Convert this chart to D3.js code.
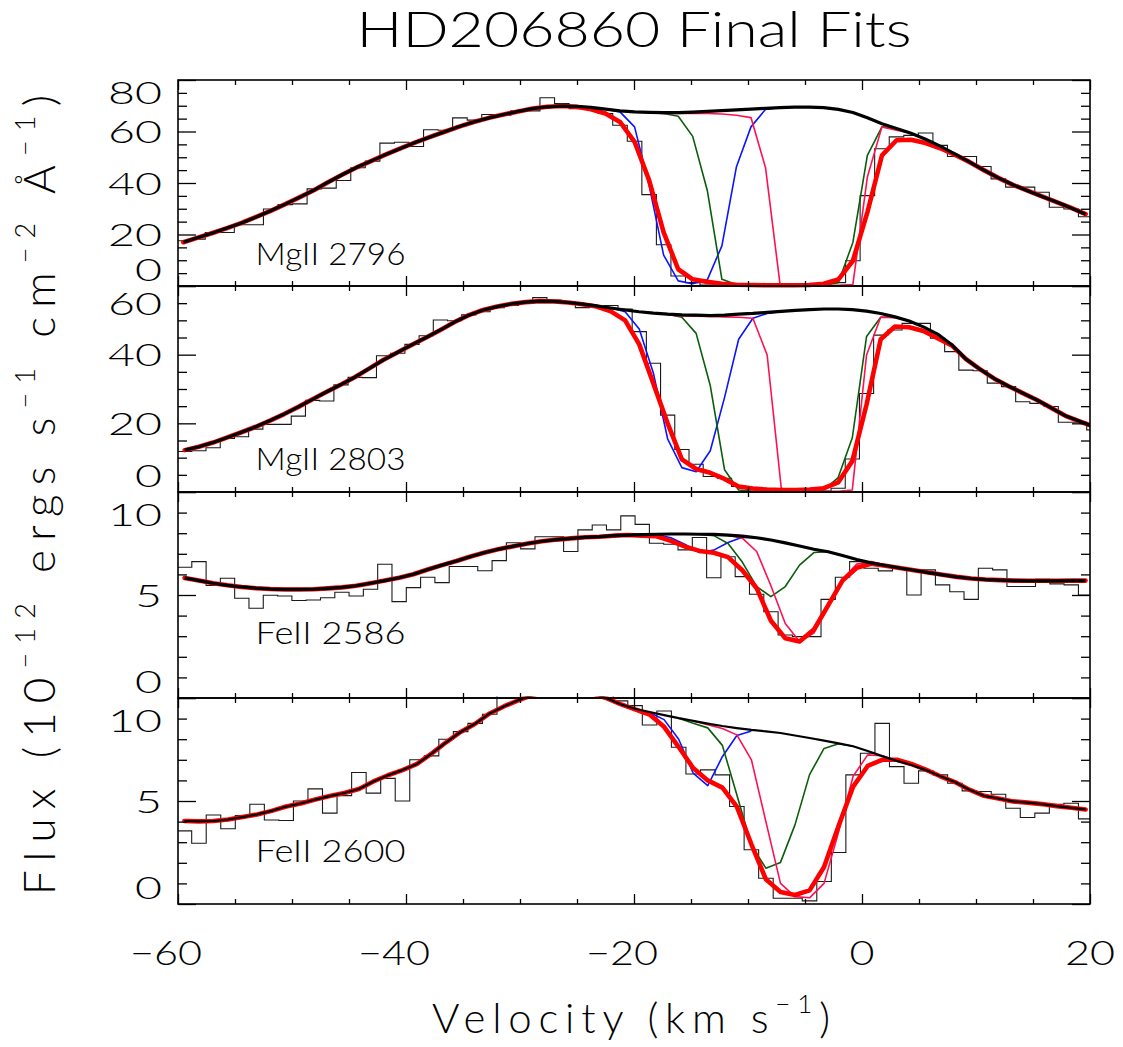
<!DOCTYPE html>
<html><head><meta charset="utf-8">
<script src="https://cdn.jsdelivr.net/npm/d3@7"></script>
<style>
html,body{margin:0;padding:0;background:#fff;}
svg{display:block;}
text{font-family:Lato,Inter,Roboto,"DejaVu Sans",sans-serif;font-weight:300;fill:#000;-webkit-font-smoothing:antialiased;}
</style></head><body>
<svg id="chart" width="1123" height="1047"></svg>
<script>
// ---------------- DATA ----------------
const titleText = "HD206860 Final Fits";
const xTickValues = [-60, -40, -20, 0, 20];
const xTickLabels = ["\u221260", "\u221240", "\u221220", "0", "20"];
const xMinorTicks = [-55, -50, -45, -35, -30, -25, -15, -10, -5, 5, 10, 15];
const panelNames = ["MgII 2796", "MgII 2803", "FeII 2586", "FeII 2600"];

// MgII 2796
const velMg2796 = [-59.53,-58.25,-56.97,-55.70,-54.42,-53.14,-51.87,-50.59,-49.31,-48.04,-46.76,-45.48,-44.21,-42.93,-41.65,-40.38,-39.10,-37.82,-36.55,-35.27,-33.99,-32.72,-31.44,-30.16,-28.89,-27.61,-26.33,-25.06,-23.78,-22.50,-21.23,-19.95,-18.67,-17.40,-16.12,-14.85,-13.57,-12.29,-11.02,-9.74,-8.46,-7.19,-5.91,-4.63,-3.36,-2.08,-0.80,0.47,1.75,3.03,4.30,5.58,6.86,8.13,9.41,10.69,11.96,13.24,14.52,15.79,17.07,18.35,19.62];
const fluxMg2796 = [17.6,18.2,20.8,20.8,23.8,23.8,29.9,31.6,31.9,37.7,38.0,41.0,45.9,48.5,55.5,55.8,54.2,60.7,60.5,65.3,64.4,66.6,66.3,68.0,68.0,73.1,70.9,68.9,68.6,67.0,62.4,56.2,35.5,16.0,3.9,1.3,0.4,0.3,0.3,0.2,0.3,0.2,0.3,0.3,0.4,1.3,9.8,35.1,53.3,57.9,58.5,59.4,54.6,50.3,50.3,46.4,41.6,38.4,38.4,36.4,30.6,29.9,26.9];
const contMg2796 = [17.0,18.8,20.6,22.5,24.5,26.8,29.2,31.8,34.5,37.3,40.5,43.5,46.3,48.8,51.3,53.6,55.9,58.0,60.0,62.0,63.8,65.3,66.6,67.8,68.9,69.6,69.9,69.8,69.4,68.7,68.0,67.6,67.4,67.3,67.3,67.5,67.8,68.1,68.4,68.7,69.0,69.3,69.5,69.5,69.3,68.6,67.4,65.3,63.0,61.2,59.3,57.0,54.3,51.3,48.2,45.0,42.0,39.3,37.0,34.8,32.6,30.3,27.9];
const fitMg2796 = [17.0,18.8,20.6,22.5,24.5,26.8,29.2,31.8,34.5,37.3,40.5,43.5,46.3,48.8,51.3,53.6,55.9,58.0,60.0,62.0,63.8,65.3,66.6,67.8,68.9,69.6,69.9,69.6,68.6,67.0,63.7,56.0,41.0,20.8,6.5,2.6,1.6,0.9,0.5,0.4,0.3,0.3,0.3,0.4,0.9,2.5,9.8,28.6,50.7,56.6,56.8,55.5,53.5,51.0,48.2,45.0,42.0,39.3,37.0,34.8,32.6,30.3,27.9];
const blueVelMg2796 = [-22.50,-21.23,-19.95,-18.67,-17.40,-16.12,-14.85,-13.57,-12.29,-11.02,-9.74,-8.46,-7.19];
const blueMg2796 = [68.7,67.6,61.8,39.0,12.0,2.0,0.9,2.4,15.6,46.2,61.8,68.6,69.3];
const greenVelMg2796 = [-18.67,-17.40,-16.12,-14.85,-13.57,-12.29,-11.02,-9.74,-8.46,-7.19,-5.91,-4.63,-3.36,-2.08,-0.80,0.47,1.75,3.03];
const greenMg2796 = [67.4,67.0,65.9,58.1,37.1,2.6,0.6,0.3,0.3,0.3,0.3,0.3,0.4,1.3,16.9,50.7,61.8,61.2];
const pinkVelMg2796 = [-18.67,-17.40,-16.12,-14.85,-13.57,-12.29,-11.02,-9.74,-8.46,-7.19,-5.91,-4.63,-3.36,-2.08,-0.80,0.47,1.75,3.03,4.30];
const pinkMg2796 = [67.2,67.0,67.0,67.0,67.0,66.8,66.3,65.4,45.9,0.6,0.3,0.3,0.3,0.3,0.6,42.3,61.8,60.5,59.3];

// MgII 2803
const velMg2803 = [-59.41,-58.17,-56.92,-55.67,-54.43,-53.18,-51.93,-50.69,-49.44,-48.20,-46.95,-45.70,-44.46,-43.21,-41.97,-40.72,-39.47,-38.23,-36.98,-35.74,-34.49,-33.24,-32.00,-30.75,-29.51,-28.26,-27.01,-25.77,-24.52,-23.28,-22.03,-20.78,-19.54,-18.29,-17.05,-15.80,-14.55,-13.31,-12.06,-10.82,-9.57,-8.32,-7.08,-5.83,-4.59,-3.34,-2.09,-0.85,0.40,1.64,2.89,4.14,5.38,6.63,7.87,9.12,10.37,11.61,12.86,14.10,15.35,16.60,17.84,19.09,20.33];
const fluxMg2803 = [11.8,12.0,12.9,15.6,16.1,18.3,19.7,19.7,22.1,26.7,26.5,31.2,33.4,33.3,39.7,40.4,43.0,45.5,50.1,49.9,51.6,52.5,53.7,54.3,55.0,56.6,55.9,55.3,53.7,54.0,54.3,53.3,46.7,37.5,22.4,12.4,8.1,4.5,4.0,1.6,0.9,0.3,0.2,0.2,0.2,0.3,1.1,9.6,28.7,45.7,47.2,49.1,49.1,44.8,40.9,35.5,35.3,31.7,30.7,26.3,25.8,24.9,20.3,20.3,18.1];
const contMg2803 = [12.2,13.2,14.4,15.9,17.4,19.0,20.8,22.7,24.8,27.0,29.2,31.3,33.5,36.0,38.5,40.7,42.9,45.0,47.2,49.5,51.5,53.0,54.0,54.8,55.3,55.6,55.5,55.2,54.7,54.2,53.6,53.0,52.5,52.1,51.8,51.6,51.5,51.4,51.5,51.8,52.0,52.3,52.6,52.9,53.1,53.3,53.3,53.1,52.7,52.0,51.0,49.8,48.1,46.0,42.9,38.7,35.7,33.0,30.8,28.8,26.8,24.5,22.2,20.6,19.0];
const fitMg2803 = [12.2,13.2,14.4,15.9,17.4,19.0,20.8,22.7,24.8,27.0,29.2,31.3,33.5,36.0,38.5,40.7,42.9,45.0,47.2,49.5,51.5,53.0,54.0,54.8,55.3,55.6,55.5,55.2,54.7,54.0,52.6,50.0,43.0,31.5,20.0,9.5,6.7,5.6,3.8,1.6,1.0,0.7,0.6,0.6,0.7,1.1,2.8,9.0,25.5,44.5,48.2,48.0,46.9,44.8,42.7,38.7,35.7,33.0,30.8,28.8,26.8,24.5,22.2,20.6,19.0];
const blueVelMg2803 = [-22.03,-20.78,-19.54,-18.29,-17.05,-15.80,-14.55,-13.31,-12.06,-10.82,-9.57,-8.32,-7.08];
const blueMg2803 = [53.6,52.5,47.5,34.5,15.5,7.1,5.9,12.0,27.5,44.5,50.6,52.0,52.6];
const greenVelMg2803 = [-17.05,-15.80,-14.55,-13.31,-12.06,-10.82,-9.57,-8.32,-7.08,-5.83,-4.59,-3.34,-2.09,-0.85,0.40,1.64,2.89];
const greenMg2803 = [51.8,50.9,46.2,31.0,6.5,0.6,0.2,0.2,0.2,0.2,0.2,0.6,4.2,15.8,45.3,50.9,51.0];
const pinkVelMg2803 = [-17.05,-15.80,-14.55,-13.31,-12.06,-10.82,-9.57,-8.32,-7.08,-5.83,-4.59,-3.34,-2.09,-0.85,0.40,1.64,2.89,4.14];
const pinkMg2803 = [51.6,51.3,51.2,51.1,51.0,50.9,50.6,39.9,1.1,0.2,0.2,0.2,0.2,0.6,39.9,50.9,50.8,49.8];

// FeII 2586
const velFe2586 = [-59.42,-58.16,-56.91,-55.66,-54.40,-53.15,-51.89,-50.64,-49.38,-48.13,-46.87,-45.62,-44.37,-43.11,-41.86,-40.60,-39.35,-38.09,-36.84,-35.58,-34.33,-33.08,-31.82,-30.57,-29.31,-28.06,-26.80,-25.55,-24.29,-23.04,-21.79,-20.53,-19.28,-18.02,-16.77,-15.51,-14.26,-13.00,-11.75,-10.50,-9.24,-7.99,-6.73,-5.48,-4.22,-2.97,-1.71,-0.46,0.80,2.05,3.30,4.56,5.81,7.07,8.32,9.58,10.83,12.09,13.34,14.59,15.85,17.10,18.36,19.61];
const fluxFe2586 = [6.35,6.62,5.46,5.81,4.84,4.36,4.99,4.95,4.73,4.76,4.87,5.13,4.95,5.28,6.49,4.68,5.36,5.86,5.60,6.38,6.38,6.18,6.67,7.54,7.24,7.83,7.83,7.11,8.16,8.40,8.16,8.84,8.43,7.51,7.46,7.19,7.79,5.84,6.86,5.89,5.04,4.19,3.06,2.98,2.98,4.79,5.86,6.62,6.30,6.17,6.30,5.00,6.22,5.49,5.16,4.79,6.30,6.22,5.41,5.41,5.76,5.54,5.49,5.00];
const contFe2586 = [5.83,5.70,5.57,5.47,5.39,5.33,5.29,5.27,5.27,5.28,5.32,5.37,5.45,5.57,5.70,5.84,6.01,6.24,6.45,6.65,6.87,7.06,7.23,7.37,7.50,7.61,7.69,7.75,7.80,7.83,7.88,7.91,7.93,7.95,7.96,7.96,7.95,7.94,7.91,7.86,7.78,7.67,7.53,7.38,7.22,7.10,6.92,6.72,6.56,6.43,6.31,6.20,6.09,5.98,5.88,5.80,5.75,5.72,5.70,5.69,5.69,5.69,5.70,5.70];
const fitFe2586 = [5.83,5.70,5.57,5.47,5.39,5.33,5.29,5.27,5.27,5.28,5.32,5.37,5.45,5.57,5.70,5.84,6.01,6.24,6.45,6.65,6.87,7.06,7.23,7.37,7.50,7.61,7.69,7.75,7.80,7.83,7.88,7.91,7.88,7.85,7.63,7.35,7.14,7.05,6.84,6.20,5.33,3.75,2.90,2.74,3.32,4.50,5.70,6.32,6.52,6.42,6.31,6.20,6.09,5.98,5.88,5.80,5.75,5.72,5.70,5.69,5.69,5.69,5.70,5.70];
const blueVelFe2586 = [-19.28,-18.02,-16.77,-15.51,-14.26,-13.00,-11.75,-10.50,-9.24];
const blueFe2586 = [7.93,7.93,7.78,7.45,7.06,7.18,7.55,7.80,7.78];
const greenVelFe2586 = [-14.26,-13.00,-11.75,-10.50,-9.24,-7.99,-6.73,-5.48,-4.22,-2.97];
const greenFe2586 = [7.95,7.88,7.50,6.60,5.41,4.92,5.41,6.45,7.06,7.10];
const pinkVelFe2586 = [-11.75,-10.50,-9.24,-7.99,-6.73,-5.48,-4.22,-2.97,-1.71,-0.46,0.80,2.05];
const pinkFe2586 = [7.90,7.76,7.11,5.45,3.62,2.74,3.15,4.40,5.78,6.50,6.62,6.45];

// FeII 2600
const velFe2600 = [-59.44,-58.16,-56.89,-55.61,-54.34,-53.06,-51.79,-50.51,-49.24,-47.96,-46.69,-45.41,-44.13,-42.86,-41.58,-40.31,-39.03,-37.76,-36.48,-35.21,-33.93,-32.66,-31.38,-30.11,-28.83,-27.56,-26.28,-25.01,-23.73,-22.46,-21.18,-19.91,-18.63,-17.36,-16.08,-14.81,-13.53,-12.25,-10.98,-9.70,-8.43,-7.15,-5.88,-4.60,-3.33,-2.05,-0.78,0.50,1.77,3.05,4.32,5.60,6.87,8.15,9.42,10.70,11.97,13.25,14.52,15.80,17.07,18.35,19.62];
const fluxFe2600 = [3.55,2.95,4.32,3.65,4.29,4.84,4.08,4.05,5.00,5.59,4.41,5.26,6.38,5.38,6.10,5.00,7.00,7.19,8.00,8.37,8.77,9.21,10.4,10.8,11.0,11.2,11.1,10.9,10.6,10.2,9.86,9.63,8.69,9.37,7.61,6.31,6.51,6.27,4.73,2.63,1.25,0.28,0.28,0.15,1.09,2.50,6.27,7.32,8.77,6.67,5.86,6.46,6.27,5.86,5.49,5.46,5.33,4.65,4.20,4.41,4.84,4.89,4.13];
const contFe2600 = [4.03,4.01,4.03,4.10,4.22,4.35,4.52,4.73,4.88,5.07,5.24,5.39,5.58,5.95,6.25,6.50,6.80,7.30,7.85,8.35,8.75,9.25,9.60,9.90,10.15,10.4,10.5,10.45,10.25,10.0,9.70,9.48,9.32,9.17,9.02,8.89,8.76,8.64,8.54,8.45,8.38,8.30,8.18,8.06,7.93,7.80,7.66,7.43,7.18,6.95,6.75,6.50,6.20,5.92,5.55,5.25,5.12,4.98,4.92,4.85,4.75,4.67,4.59];
const fitFe2600 = [4.03,4.01,4.03,4.10,4.22,4.35,4.52,4.73,4.88,5.07,5.24,5.39,5.58,5.95,6.25,6.50,6.80,7.30,7.85,8.35,8.75,9.25,9.60,9.90,10.15,10.4,10.5,10.45,10.25,10.0,9.70,9.45,9.20,8.60,7.62,6.60,6.00,5.65,4.73,2.90,1.20,0.58,0.44,0.66,1.80,3.80,5.70,6.70,7.00,7.00,6.80,6.52,6.20,5.92,5.55,5.25,5.12,4.98,4.92,4.85,4.75,4.67,4.59];
const blueVelFe2600 = [-19.91,-18.63,-17.36,-16.08,-14.81,-13.53,-12.25,-10.98,-9.70];
const blueFe2600 = [9.48,9.30,8.95,8.00,6.35,5.75,7.15,8.18,8.40];
const greenVelFe2600 = [-16.08,-14.81,-13.53,-12.25,-10.98,-9.70,-8.43,-7.15,-5.88,-4.60,-3.33,-2.05,-0.78];
const greenFe2600 = [9.02,8.77,8.55,7.70,5.30,2.85,1.74,2.02,3.84,6.28,7.55,7.78,7.66];
const pinkVelFe2600 = [-14.81,-13.53,-12.25,-10.98,-9.70,-8.43,-7.15,-5.88,-4.60,-3.33,-2.05,-0.78,0.50,1.77,3.05];
const pinkFe2600 = [8.89,8.70,8.52,8.21,7.00,4.00,1.00,0.36,0.30,1.00,3.50,6.20,7.24,7.20,6.95];

// y axes
const yMaxes = [80, 60, 10, 10];
const yTickLabelsP = [[0,20,40,60,80],[0,20,40,60],[0,5,10],[0,5,10]];
const yMinorP = [[5,10,15,25,30,35,45,50,55,65,70,75],[5,10,15,25,30,35,45,50,55],[1,2,3,4,6,7,8,9],[1,2,3,4,6,7,8,9]];

// ---------------- LAYOUT ----------------
const X0 = 178, X1 = 1090, TOP = 80, PH = 206;
const labelPos = [[-53.2, 8.0], [-53.2, 6.4], [-53.2, 2.6], [-53.2, 2.04]];
const topLabelInset = [12, 17, 22, 22];
const botLabelInset = 17;
const contWidth = [3.2, 3.2, 3.2, 2.2];
const COL = {blue: "#0a14ff", green: "#0b5c0b", pink: "#ff1050", red: "#ff0000", black: "#000"};

const panels = [
  {vel: velMg2796, flux: fluxMg2796, cont: contMg2796, fit: fitMg2796,
   comps: [[blueVelMg2796, blueMg2796, COL.blue], [greenVelMg2796, greenMg2796, COL.green], [pinkVelMg2796, pinkMg2796, COL.pink]]},
  {vel: velMg2803, flux: fluxMg2803, cont: contMg2803, fit: fitMg2803,
   comps: [[blueVelMg2803, blueMg2803, COL.blue], [greenVelMg2803, greenMg2803, COL.green], [pinkVelMg2803, pinkMg2803, COL.pink]]},
  {vel: velFe2586, flux: fluxFe2586, cont: contFe2586, fit: fitFe2586,
   comps: [[blueVelFe2586, blueFe2586, COL.blue], [greenVelFe2586, greenFe2586, COL.green], [pinkVelFe2586, pinkFe2586, COL.pink]]},
  {vel: velFe2600, flux: fluxFe2600, cont: contFe2600, fit: fitFe2600,
   comps: [[blueVelFe2600, blueFe2600, COL.blue], [greenVelFe2600, greenFe2600, COL.green], [pinkVelFe2600, pinkFe2600, COL.pink]]}
];

const svg = d3.select("#chart");
svg.append("rect").attr("width", 1123).attr("height", 1047).attr("fill", "#fff");
const defs = svg.append("defs");
const x = d3.scaleLinear().domain([-60, 20]).range([X0, X1]);

panels.forEach((p, i) => {
  const top = TOP + i * PH, bot = top + PH;
  const y = d3.scaleLinear().domain([0, yMaxes[i]]).range([bot, top]);
  const clipId = "clip" + i;
  defs.append("clipPath").attr("id", clipId).append("rect")
    .attr("x", X0).attr("y", top - 1.5).attr("width", X1 - X0).attr("height", PH + 4);
  const g = svg.append("g");
  const plot = g.append("g").attr("clip-path", `url(#${clipId})`);

  // histogram (step) from bin centers
  const pts = [];
  for (let k = 0; k < p.vel.length; k++) {
    const left = k === 0 ? p.vel[0] - (p.vel[1] - p.vel[0]) / 2 : (p.vel[k - 1] + p.vel[k]) / 2;
    pts.push([left, p.flux[k]]);
  }
  const n = p.vel.length;
  pts.push([p.vel[n - 1] + (p.vel[n - 1] - p.vel[n - 2]) / 2, p.flux[n - 1]]);
  const stepLine = d3.line().x(d => x(d[0])).y(d => y(d[1])).curve(d3.curveStepAfter);
  plot.append("path").attr("d", stepLine(pts)).attr("fill", "none")
    .attr("stroke", "#1a1a1a").attr("stroke-width", 1.1);

  const line = d3.line().x(d => x(d[0])).y(d => y(d[1]));
  // components
  p.comps.forEach(([vv, ff, col]) => {
    plot.append("path").attr("d", line(vv.map((v, k) => [v, ff[k]])))
      .attr("fill", "none").attr("stroke", col).attr("stroke-width", 1.6)
      .attr("stroke-linejoin", "round");
  });
  // total fit
  plot.append("path").attr("d", line(p.vel.map((v, k) => [v, p.fit[k]])))
    .attr("fill", "none").attr("stroke", COL.red).attr("stroke-width", 4.6)
    .attr("stroke-linejoin", "round").attr("stroke-linecap", "round");
  // continuum
  plot.append("path").attr("d", line(p.vel.map((v, k) => [v, p.cont[k]])))
    .attr("fill", "none").attr("stroke", COL.black).attr("stroke-width", contWidth[i])
    .attr("stroke-linejoin", "round");

  // ticks via d3 axes
  const tk = (sel) => { sel.select(".domain").remove(); sel.selectAll("line").attr("stroke", "#000").attr("stroke-width", 1.3); };
  g.append("g").attr("transform", `translate(0,${bot})`).call(d3.axisBottom(x).tickValues(xMinorTicks).tickSize(-5).tickFormat("")).call(tk);
  g.append("g").attr("transform", `translate(0,${bot})`).call(d3.axisBottom(x).tickValues(xTickValues).tickSize(-10).tickFormat("")).call(tk);
  g.append("g").attr("transform", `translate(0,${top})`).call(d3.axisTop(x).tickValues(xMinorTicks).tickSize(-5).tickFormat("")).call(tk);
  g.append("g").attr("transform", `translate(0,${top})`).call(d3.axisTop(x).tickValues(xTickValues).tickSize(-10).tickFormat("")).call(tk);
  g.append("g").attr("transform", `translate(${X0},0)`).call(d3.axisLeft(y).tickValues(yMinorP[i]).tickSize(-9).tickFormat("")).call(tk);
  g.append("g").attr("transform", `translate(${X0},0)`).call(d3.axisLeft(y).tickValues(yTickLabelsP[i]).tickSize(-18).tickFormat("")).call(tk);
  g.append("g").attr("transform", `translate(${X1},0)`).call(d3.axisRight(y).tickValues(yMinorP[i]).tickSize(-9).tickFormat("")).call(tk);
  g.append("g").attr("transform", `translate(${X1},0)`).call(d3.axisRight(y).tickValues(yTickLabelsP[i]).tickSize(-18).tickFormat("")).call(tk);

  // frame
  g.append("rect").attr("x", X0).attr("y", top).attr("width", X1 - X0).attr("height", PH)
    .attr("fill", "none").attr("stroke", "#000").attr("stroke-width", 1.6);

  // y tick labels (kept inside the panel height)
  yTickLabelsP[i].forEach(v => {
    const cy = Math.max(top + topLabelInset[i], Math.min(bot - botLabelInset, y(v)));
    const s = String(v);
    svg.append("text").attr("x", 162).attr("y", cy + 11.5).attr("text-anchor", "end")
      .attr("font-size", 31).attr("textLength", 27 * s.length).attr("lengthAdjust", "spacingAndGlyphs")
      .text(s);
  });

  // panel label
  svg.append("text").attr("x", x(labelPos[i][0])).attr("y", y(labelPos[i][1]))
    .attr("font-size", 32).attr("textLength", 150).attr("lengthAdjust", "spacingAndGlyphs")
    .text(panelNames[i]);
});

// x tick labels
const botY = TOP + 4 * PH;
xTickValues.forEach((v, k) => {
  const s = xTickLabels[k];
  const neg = v < 0;
  svg.append("text").attr("x", x(v) + (neg ? -12 : 0)).attr("y", botY + 61)
    .attr("text-anchor", "middle").attr("font-size", 34)
    .attr("textLength", neg ? 72 : 25 * s.length).attr("lengthAdjust", "spacingAndGlyphs")
    .text(s);
});

// title
svg.append("text").attr("x", 634).attr("y", 47).attr("text-anchor", "middle")
  .attr("font-size", 49).attr("textLength", 555).attr("lengthAdjust", "spacingAndGlyphs")
  .text(titleText);

// x axis title
const xt = svg.append("text").attr("x", 631).attr("y", 1033).attr("text-anchor", "middle")
  .attr("font-size", 42).attr("textLength", 398).attr("lengthAdjust", "spacing");
xt.append("tspan").text("Velocity (km s");
xt.append("tspan").attr("dy", -20).attr("font-size", 26).text("\u22121");
xt.append("tspan").attr("dy", 20).text(")");

// y axis title
const yParts = [["Flux (10", 0], ["\u221212", 1], [" ergs s", 0], ["\u22121", 1], [" cm", 0], ["\u22122", 1], [" \u00c5", 0], ["\u22121", 1], [")", 0]];
const yt = svg.append("text").attr("transform", "translate(55,495) rotate(-90)")
  .attr("text-anchor", "middle").attr("font-size", 44).attr("textLength", 800).attr("lengthAdjust", "spacing");
let prevSup = 0;
yParts.forEach(([t, sup]) => {
  const ts = yt.append("tspan").text(t);
  if (sup && !prevSup) ts.attr("dy", -20).attr("font-size", 27);
  else if (!sup && prevSup) ts.attr("dy", 20);
  prevSup = sup;
});
</script>
</body></html>
